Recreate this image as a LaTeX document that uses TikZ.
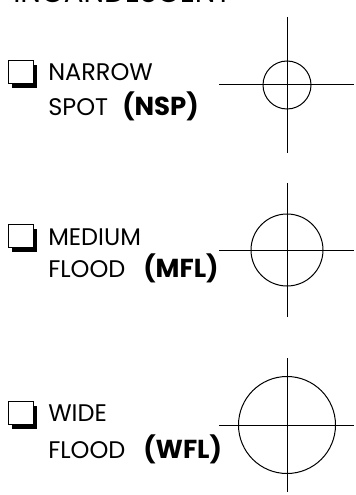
\documentclass[tikz,border=0pt]{standalone}
\usepackage{fontspec}
\setmainfont{Poppins}
\usetikzlibrary{positioning,shadows}

\begin{document}
\begin{tikzpicture}[x=0.75pt,y=-0.75pt,
 lbl/.style={anchor=base west,inner sep=0pt,font=\fontsize{18}{22}\selectfont},
 abbr/.style={anchor=base west,inner sep=0pt,font=\fontsize{19.5}{22}\selectfont\bfseries},
 chk/.style={draw,fill=white,line width=0.6pt,inner sep=0pt,minimum width=18.75pt,minimum height=17.25pt,
   general shadow={fill=black,shadow xshift=3pt,shadow yshift=-3.5pt}},
 hair/.style={line width=0.75pt},
 spot/.style={circle,draw,line width=0.75pt,inner sep=0pt}]
\useasboundingbox (0,0) rectangle (356,495);
% heading, cut off at the top edge
\node[lbl,font=\fontsize{22}{26}\selectfont] (head) at (13,3) {INCANDESCENT};
% narrow spot
\node[chk] (boxn) at (20.5,71.5) {};
\node[lbl] (nsp1) at (48,81) {NARROW};
\node[lbl] (nsp2) at (48,116) {SPOT};
\node[abbr] (nsp) at (122,116) {(NSP)};
\node[spot,minimum size=36pt] (cn) at (287,85) {};
\coordinate (cnl) at (219,85); \coordinate (cnr) at (354,85);
\coordinate (cnt) at (287,17); \coordinate (cnb) at (287,153);
\draw[hair] (cnl)--(cnr); \draw[hair] (cnt)--(cnb);
% medium flood
\node[chk] (boxm) at (20.5,236) {};
\node[lbl] (mfl1) at (48,245) {MEDIUM};
\node[lbl] (mfl2) at (48,277) {FLOOD};
\node[abbr] (mfl) at (143,277) {(MFL)};
\node[spot,minimum size=54pt] (cm) at (287,250) {};
\coordinate (cml) at (219,250); \coordinate (cmr) at (354,250);
\coordinate (cmt) at (287,183); \coordinate (cmb) at (287,317);
\draw[hair] (cml)--(cmr); \draw[hair] (cmt)--(cmb);
% wide flood
\node[chk] (boxw) at (20.5,413) {};
\node[lbl] (wfl1) at (48,421) {WIDE};
\node[lbl] (wfl2) at (48,458) {FLOOD};
\node[abbr] (wfl) at (143,458) {(WFL)};
\node[spot,minimum size=72.75pt] (cw) at (287,425) {};
\coordinate (cwl) at (219,425); \coordinate (cwr) at (354,425);
\coordinate (cwt) at (287,358); \coordinate (cwb) at (287,492);
\draw[hair] (cwl)--(cwr); \draw[hair] (cwt)--(cwb);
\end{tikzpicture}
\end{document}
